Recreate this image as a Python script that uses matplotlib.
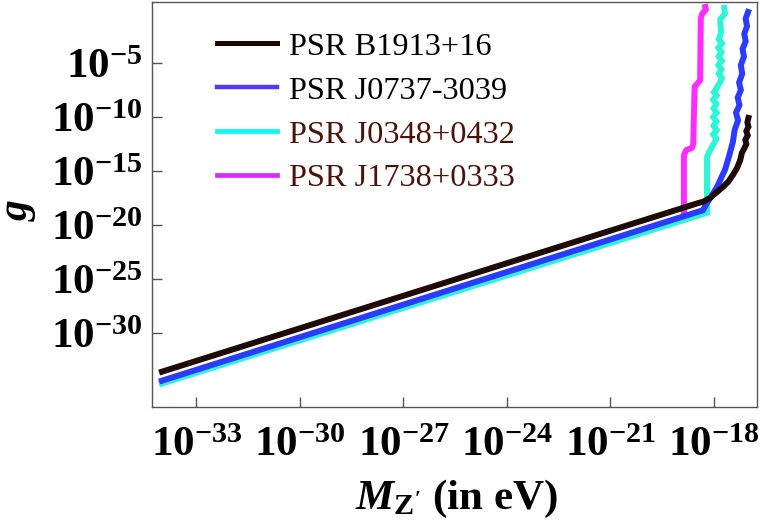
import numpy as np
import matplotlib
matplotlib.use("Agg")
import matplotlib.pyplot as plt
from matplotlib.lines import Line2D

plt.rcParams['font.family'] = ['Liberation Serif', 'DejaVu Serif']
plt.rcParams['mathtext.fontset'] = 'custom'
plt.rcParams['mathtext.rm'] = 'Liberation Serif:bold'
plt.rcParams['mathtext.bf'] = 'Liberation Serif:bold'
plt.rcParams['mathtext.it'] = 'Liberation Serif:bold:italic'

# ---- data (log10 values) ----
labels = ["PSR B1913+16", "PSR J0737-3039", "PSR J0348+0432", "PSR J1738+0333"]

b_logm = [-34.0, -18.40, -18.32, -18.10, -17.91, -17.75, -17.59, -17.45, -17.33,
          -17.24, -17.19, -17.12, -17.06, -17.09, -17.02, -17.06, -17.00, -17.03, -17.00]
b_logg = [-33.55, -17.90, -17.85, -17.45, -16.93, -16.50, -16.00, -15.35, -14.71,
          -14.00, -13.32, -12.90, -12.50, -12.10, -11.70, -11.30, -10.90, -10.50, -10.08]

u_logm = [-34.0, -18.32, -18.20, -18.05, -17.91, -17.80, -17.68, -17.56, -17.45, -17.40,
          -17.30, -17.36, -17.26, -17.31, -17.22, -17.27, -17.18, -17.22, -17.13,
          -17.17, -17.08, -17.12, -17.04, -17.08, -17.01]
u_logg = [-34.38, -18.62, -17.95, -17.20, -16.47, -15.70, -14.89, -13.60, -12.30, -11.20,
          -10.30, -9.60, -8.90, -8.20, -7.50, -6.80, -6.00, -5.20, -4.40,
          -3.70, -3.00, -2.30, -1.60, -0.90, -0.28]

c_logm = [-34.0, -18.20, -18.20, -18.12, -17.99, -17.93, -18.02, -17.92, -18.01, -17.93,
          -18.02, -17.92, -18.01, -17.93, -18.02, -17.92, -18.00, -17.94, -17.83,
          -17.77, -17.86, -17.78, -17.87, -17.77, -17.86, -17.78, -17.87, -17.77,
          -17.86, -17.79, -17.82, -17.68, -17.70]
c_logg = [-34.65, -18.85, -13.70, -13.10, -12.40, -12.00, -11.60, -11.20, -10.80, -10.40,
          -10.00, -9.60, -9.20, -8.80, -8.40, -8.00, -7.70, -7.40, -6.83,
          -6.40, -6.00, -5.60, -5.20, -4.80, -4.40, -4.00, -3.60, -3.20,
          -2.80, -2.20, -1.00, -0.40, 0.09]

p_logm = [-34.0, -18.87, -18.87, -18.80, -18.64, -18.60, -18.56, -18.40, -18.38, -18.34, -18.23, -18.25]
p_logg = [-34.55, -19.45, -13.50, -13.05, -12.86, -12.50, -7.20, -6.60, -0.83, -0.45, -0.05, 0.19]

xtick_exp = [-33, -30, -27, -24, -21, -18]
ytick_exp = [-30, -25, -20, -15, -10, -5]

col_black = "#1e0a06"
col_blue = "#2b3bff"
col_cyan = "#2ef5d5"
col_mag = "#ff2cff"

fig = plt.figure(figsize=(7.61, 5.27), dpi=100)
ax = fig.add_axes([152/761, 1 - 406.7/527, (756.7-152)/761, (406.7-1.7)/527])

lw = 4.3
ax.plot(10**np.array(p_logm), 10**np.array(p_logg), color=col_mag, lw=lw, solid_joinstyle='round')
ax.plot(10**np.array(c_logm), 10**np.array(c_logg), color=col_cyan, lw=lw, solid_joinstyle='miter')
ax.plot(10**np.array(u_logm), 10**np.array(u_logg), color=col_blue, lw=lw, solid_joinstyle='miter')
ax.plot(10**np.array(b_logm), 10**np.array(b_logg), color=col_black, lw=lw, solid_joinstyle='miter')

ax.set_xscale('log')
ax.set_yscale('log')
ax.set_xlim(10**-34.29, 10**-16.76)
ax.set_ylim(10**-36.79, 10**0.67)

ax.set_xticks([10.0**e for e in xtick_exp])
ax.set_xticklabels([r"$10^{%d}$" % e for e in xtick_exp])
ax.set_yticks([10.0**e for e in ytick_exp])
ax.set_yticklabels([r"$10^{%d}$" % e for e in ytick_exp])
ax.minorticks_off()
ax.tick_params(axis='both', direction='in', length=7, width=1, color='#555555',
               labelsize=31, top=False, right=False)
ax.tick_params(axis='x', pad=14)
ax.tick_params(axis='y', pad=7)
for s in ax.spines.values():
    s.set_color('#555555')
    s.set_linewidth(1)

ax.set_xlabel(r"$M_{\mathrm{Z'}}$ (in eV)", fontsize=31, fontweight='bold')
ax.xaxis.set_label_coords(0.503, -0.175)
ax.set_ylabel(r"$g$", fontsize=30)
ax.yaxis.set_label_coords(-0.188, 0.486)

handles = [Line2D([], [], color="#1a0800", lw=3.6),
           Line2D([], [], color="#5038ff", lw=3.2),
           Line2D([], [], color="#10f5f0", lw=3.4),
           Line2D([], [], color="#d82cff", lw=3.4)]
leg = ax.legend(handles, labels, loc='upper left', bbox_to_anchor=(0.108, 0.925),
                frameon=False, fontsize=23.3, handlelength=1.85, handletextpad=0.38,
                labelspacing=0.44, borderpad=0, borderaxespad=0)
txt_cols = ["#000000", "#000000", "#4a1208", "#4a1208"]
for t, c in zip(leg.get_texts(), txt_cols):
    t.set_color(c)

fig.savefig("out.png", dpi=100)
